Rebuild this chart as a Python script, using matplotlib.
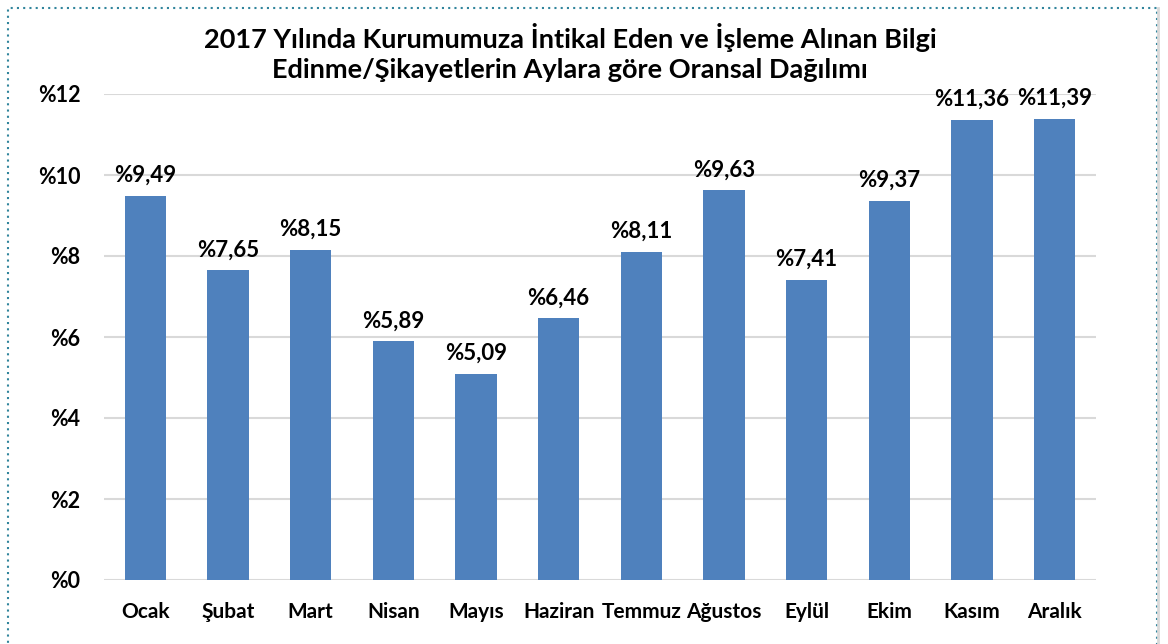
import matplotlib.pyplot as plt
from matplotlib.patches import Rectangle

plt.rcParams['font.family'] = ['Lato', 'DejaVu Sans']

aylar = ['Ocak', 'Şubat', 'Mart', 'Nisan', 'Mayıs', 'Haziran', 'Temmuz',
         'Ağustos', 'Eylül', 'Ekim', 'Kasım', 'Aralık']
oranlar = [9.49, 7.65, 8.15, 5.89, 5.09, 6.46, 8.11, 9.63, 7.41, 9.37, 11.36, 11.39]
y_ticks = [0, 2, 4, 6, 8, 10, 12]

fig = plt.figure(figsize=(11.68, 6.44), dpi=100)
ax = fig.add_axes([104/1168, 1 - 580/644, (1096-104)/1168, (580-94)/644])

x = range(len(aylar))
ax.bar(x, oranlar, width=0.5, color='#4F81BD', zorder=3)
for i, v in enumerate(oranlar):
    ax.annotate('%' + f'{v:.2f}'.replace('.', ','), (i, v), xytext=(0, 7),
                textcoords='offset points', ha='center', va='bottom',
                fontsize=16, fontweight='bold', zorder=4)

ax.set_xlim(-0.5, len(aylar) - 0.5)
ax.set_ylim(0, 12)
ax.set_yticks(y_ticks)
ax.set_yticklabels(['%' + str(t) for t in y_ticks], fontsize=15.5, fontweight='bold')
ax.set_xticks(list(x))
ax.set_xticklabels(aylar, fontsize=15, fontweight='bold')
ax.tick_params(length=0)
ax.tick_params(axis='y', pad=17)
ax.tick_params(axis='x', pad=16)
ax.grid(axis='y', color='#D9D9D9', linewidth=1.5, zorder=0)
for s in ax.spines.values():
    s.set_visible(False)

fig.text(570/1168, 1 - 52/644,
         '2017 Yılında Kurumumuza İntikal Eden ve İşleme Alınan Bilgi\nEdinme/Şikayetlerin Aylara göre Oransal Dağılımı',
         ha='center', va='center', fontsize=19.5, fontweight='bold', linespacing=1.3)

# dış çerçeve
fig.patches.append(Rectangle((8/1168, -0.1), 1149/1168, 1.1 - 8/644, transform=fig.transFigure,
                             fill=False, edgecolor='#31859C', linestyle=(0, (1, 2)), linewidth=1.5))
fig.add_artist(plt.Line2D([1158/1168, 1158/1168], [0, 1 - 8/644], transform=fig.transFigure,
                          color='#D9D9D9', linewidth=2))

fig.savefig('out.png', dpi=100)
